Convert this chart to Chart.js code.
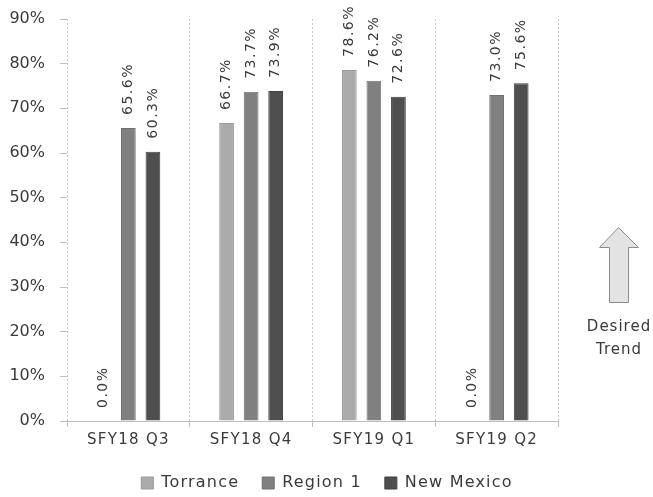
<!DOCTYPE html>
<html>
<head>
<meta charset="utf-8">
<script src="https://cdn.jsdelivr.net/npm/chart.js@4/dist/chart.umd.min.js"></script>
<style>
  html, body { margin: 0; padding: 0; background: #fff; }
  #wrap { width: 653px; height: 497px; }
</style>
</head>
<body>
<div id="wrap"><canvas id="chart" width="653" height="497"></canvas></div>
<script>
// Chart data
const quarters = ['SFY18 Q3', 'SFY18 Q4', 'SFY19 Q1', 'SFY19 Q2'];
const torrance = [0.0, 66.7, 78.6, 0.0];
const region1 = [65.6, 73.7, 76.2, 73.0];
const newMexico = [60.3, 73.9, 72.6, 75.6];
const yTicks = [0, 10, 20, 30, 40, 50, 60, 70, 80, 90];

const FONT = '"DejaVu Sans", sans-serif';
const TEXT = '#3a3a3a';

// Rotated value labels above each bar
const barLabels = {
    id: 'barLabels',
    afterDatasetsDraw(chart) {
        const ctx = chart.ctx;
        ctx.save();
        ctx.font = '14px ' + FONT;
        ctx.fillStyle = TEXT;
        ctx.letterSpacing = '1.5px';
        ctx.textAlign = 'left';
        ctx.textBaseline = 'middle';
        chart.data.datasets.forEach((ds, i) => {
            chart.getDatasetMeta(i).data.forEach((bar, j) => {
                ctx.save();
                ctx.translate(bar.x, bar.y - 13);
                ctx.rotate(-Math.PI / 2);
                ctx.fillText(ds.data[j].toFixed(1) + '%', 0, 0);
                ctx.restore();
            });
        });
        ctx.restore();
    }
};

// Spaced-out text, legend placement, and the "Desired Trend" arrow
const extras = {
    id: 'extras',
    afterInit(chart) {
        const lg = chart.legend;
        if (lg && !lg._fixed) {
            const fit = lg.fit;
            const draw = lg.draw;
            lg.fit = function () {
                this.ctx.save();
                this.ctx.letterSpacing = '1.2px';
                fit.call(this);
                this.ctx.restore();
                this.height = 45;
            };
            // centre the legend on the whole canvas, not just the plot
            lg.draw = function () {
                this.ctx.save();
                this.ctx.translate(48, 0);
                this.ctx.letterSpacing = '1.2px';
                draw.call(this);
                this.ctx.restore();
            };
            lg._fixed = true;
        }
    },
    beforeDraw(chart) {
        const sx = chart.scales.x;
        if (sx && !sx._spaced) {
            const orig = sx.drawLabels.bind(sx);
            sx.drawLabels = function (area) {
                this.ctx.save();
                this.ctx.letterSpacing = '1.3px';
                orig(area);
                this.ctx.restore();
            };
            sx._spaced = true;
        }
    },
    afterDraw(chart) {
        const ctx = chart.ctx;
        ctx.save();
        ctx.beginPath();
        ctx.moveTo(618.5, 227.5);
        ctx.lineTo(638.5, 247.5);
        ctx.lineTo(628.5, 247.5);
        ctx.lineTo(628.5, 302.5);
        ctx.lineTo(609.5, 302.5);
        ctx.lineTo(609.5, 247.5);
        ctx.lineTo(599.5, 247.5);
        ctx.closePath();
        ctx.fillStyle = '#e3e3e3';
        ctx.fill();
        ctx.strokeStyle = '#8c8c8c';
        ctx.lineWidth = 1;
        ctx.stroke();

        ctx.fillStyle = TEXT;
        ctx.font = '15px ' + FONT;
        ctx.letterSpacing = '1px';
        ctx.textAlign = 'center';
        ctx.textBaseline = 'middle';
        ctx.fillText('Desired', 619, 327);
        ctx.fillText('Trend', 619, 350);
        ctx.restore();
    }
};

new Chart(document.getElementById('chart'), {
    type: 'bar',
    data: {
        labels: quarters,
        datasets: [
            { label: 'Torrance', data: torrance, backgroundColor: '#ababab', borderColor: '#9a9a9a', borderWidth: 1 },
            { label: 'Region 1', data: region1, backgroundColor: '#808080', borderColor: '#707070', borderWidth: 1 },
            { label: 'New Mexico', data: newMexico, backgroundColor: '#4f4f4f', borderColor: '#404040', borderWidth: 1 }
        ]
    },
    options: {
        responsive: false,
        animation: false,
        layout: { padding: { left: 0, right: 95, top: 19, bottom: 0 } },
        datasets: {
            bar: { categoryPercentage: 0.6, barPercentage: 0.6 }
        },
        plugins: {
            legend: {
                position: 'bottom',
                labels: {
                    boxWidth: 12,
                    boxHeight: 12,
                    padding: 23,
                    color: TEXT,
                    font: { family: FONT, size: 16 }
                }
            },
            tooltip: { enabled: false }
        },
        scales: {
            x: {
                grid: {
                    offset: true,
                    color: '#c8c8c8',
                    tickColor: '#bfbfbf',
                    tickLength: 6,
                    drawTicks: true
                },
                border: { display: true, color: '#bfbfbf', width: 1, dash: [2, 2] },
                ticks: {
                    color: TEXT,
                    padding: 4,
                    font: { family: FONT, size: 15 }
                },
                afterFit(scale) { scale.height = 31; }
            },
            y: {
                min: 0,
                max: 90,
                afterBuildTicks(scale) {
                    scale.ticks = yTicks.map(v => ({ value: v }));
                },
                grid: {
                    drawOnChartArea: false,
                    tickColor: '#bfbfbf',
                    tickLength: 7
                },
                border: { display: false },
                ticks: {
                    color: TEXT,
                    padding: 15,
                    font: { family: FONT, size: 16 },
                    callback: v => v + '%'
                },
                afterFit(scale) {
                    scale.width = 67;
                    scale.paddingTop = 0;
                    scale.paddingBottom = 0;
                }
            }
        }
    },
    plugins: [barLabels, extras]
});
</script>
</body>
</html>
